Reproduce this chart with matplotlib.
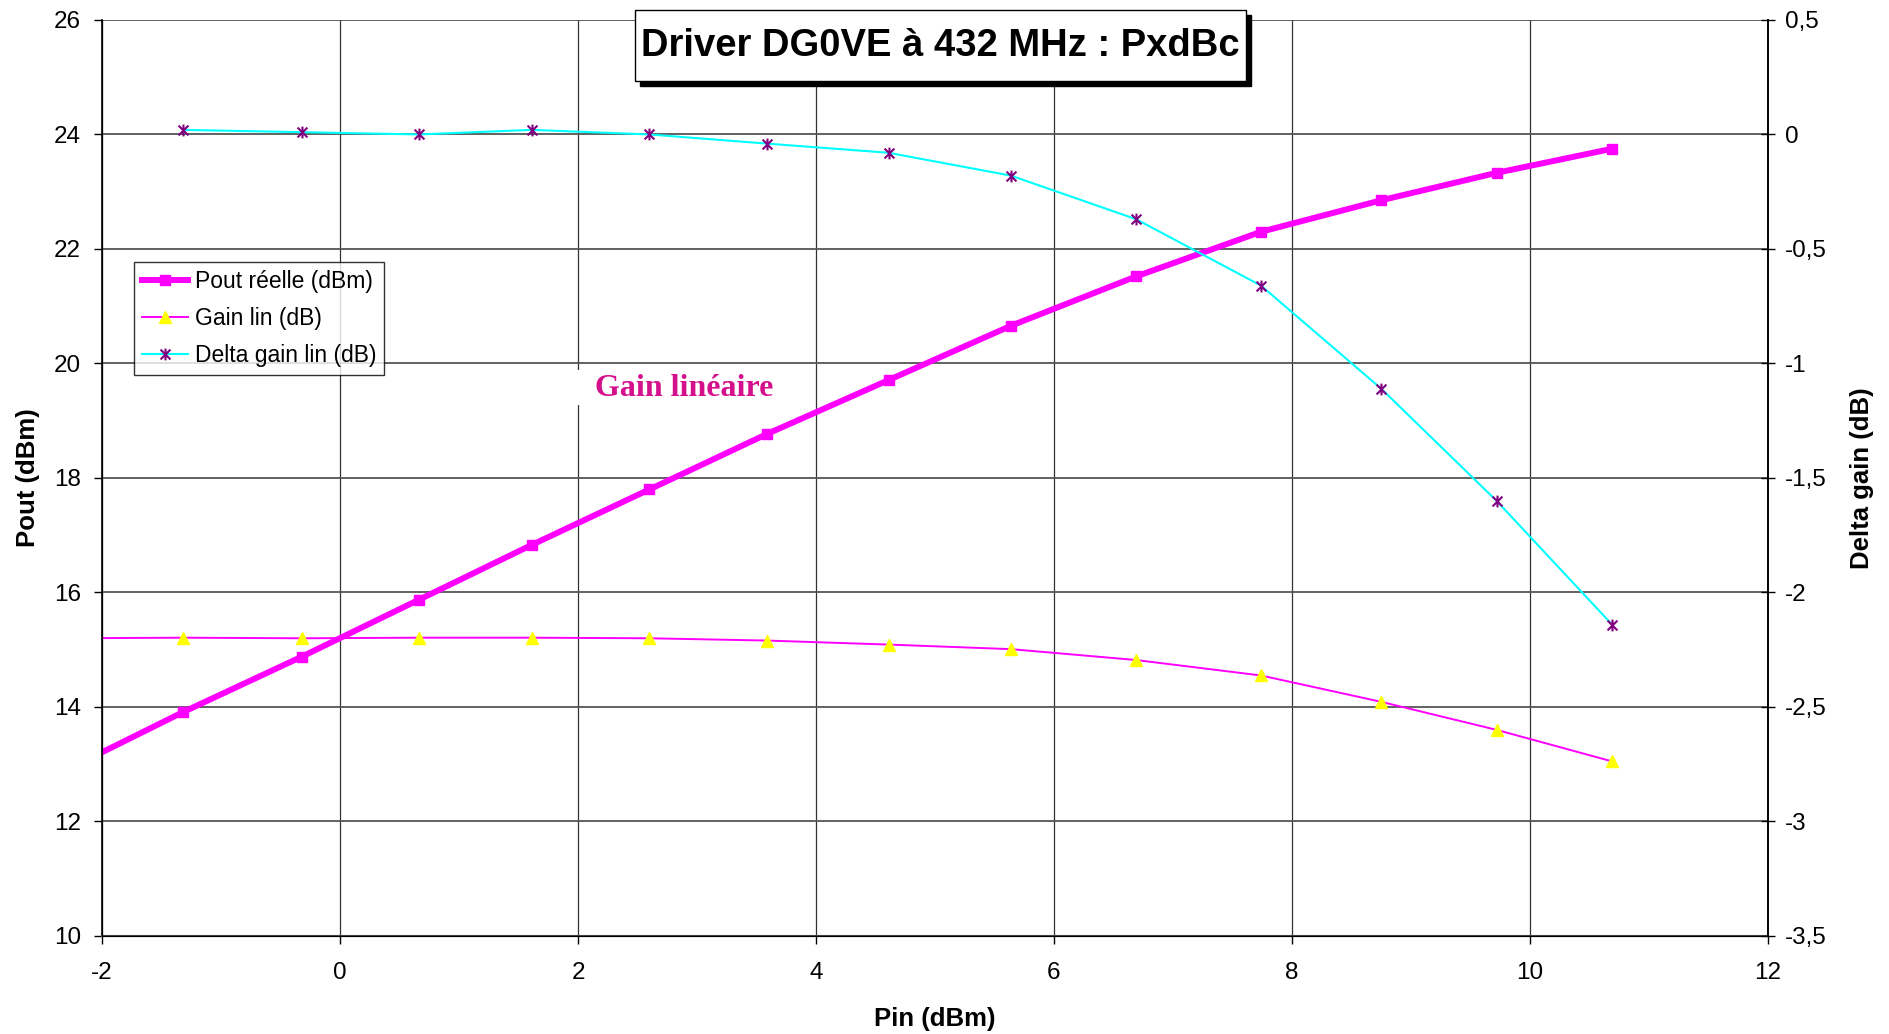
import numpy as np
import matplotlib
matplotlib.use("Agg")
import matplotlib.pyplot as plt
from matplotlib.path import Path
from matplotlib.patches import Rectangle
from matplotlib.ticker import FuncFormatter, MultipleLocator

# Measured driver data (Pin in dBm)
pin = [-2.3, -1.32, -0.32, 0.66, 1.61, 2.60, 3.59, 4.61, 5.64, 6.69, 7.74, 8.75, 9.72, 10.69]
pout = [12.9, 13.91, 14.88, 15.87, 16.83, 17.80, 18.77, 19.71, 20.66, 21.52, 22.30, 22.85, 23.33, 23.75]
gain_lin = [15.2, 15.21, 15.20, 15.21, 15.21, 15.20, 15.16, 15.09, 15.01, 14.82, 14.55, 14.09, 13.60, 13.05]
delta_gain = [np.nan, 0.02, 0.01, 0.0, 0.02, 0.0, -0.04, -0.08, -0.18, -0.37, -0.66, -1.11, -1.60, -2.14]

series_names = ["Pout réelle (dBm)", "Gain lin (dB)", "Delta gain lin (dB)"]
title_text = "Driver DG0VE à 432 MHz : PxdBc"
note_text = "Gain linéaire"

plt.rcParams["font.family"] = ["Liberation Sans", "DejaVu Sans"]
plt.rcParams["axes.unicode_minus"] = False

fig = plt.figure(figsize=(18.9, 10.34), dpi=100)
ax = fig.add_axes([0.054, 0.0948, 0.8814, 0.8859])
ax2 = ax.twinx()

# Excel-style star marker: an x with a vertical bar
star = Path([(-1, -1), (1, 1), (-1, 1), (1, -1), (0, -1.2), (0, 1.2)],
            [Path.MOVETO, Path.LINETO, Path.MOVETO, Path.LINETO, Path.MOVETO, Path.LINETO])

ax.set_xlim(-2, 12)
ax.set_ylim(10, 26)
ax2.set_ylim(-3.5, 0.5)

ax.xaxis.set_major_locator(MultipleLocator(2))
ax.yaxis.set_major_locator(MultipleLocator(2))
ax2.yaxis.set_major_locator(MultipleLocator(0.5))

comma = FuncFormatter(lambda v, p: ("%g" % v).replace(".", ","))
ax.xaxis.set_major_formatter(comma)
ax.yaxis.set_major_formatter(comma)
ax2.yaxis.set_major_formatter(comma)

# grid
ax.grid(axis="y", color="#555555", lw=1.3, zorder=0)
ax.grid(axis="x", color="#333333", lw=0.9, zorder=0)
ax.set_axisbelow(True)

l1, = ax.plot(pin, pout, color="#FF00FF", lw=4.3, marker="s", ms=6.5,
              mfc="#FF00FF", mec="#FF00FF", zorder=4, label=series_names[0])
l2, = ax.plot(pin, gain_lin, color="#FF00FF", lw=1.4, marker="^", ms=8,
              mfc="#FFFF00", mec="#FFFF00", zorder=3, label=series_names[1])
l3, = ax2.plot(pin, delta_gain, color="#00FFFF", lw=1.5, marker=star, ms=8.5,
               mfc="none", mec="#800080", mew=1.5, zorder=3, label=series_names[2])

# white background behind the annotation
ax.add_patch(Rectangle((1.97, 19.27), 1.95, 0.62, facecolor="white", edgecolor="none", zorder=2))
ax.text(2.89, 19.57, note_text, family=["Liberation Serif", "DejaVu Serif"],
        fontweight="bold", fontsize=23, color="#D4108C", ha="center", va="center", zorder=5)

for s in ["left", "right"]:
    ax.spines[s].set_color("black")
    ax.spines[s].set_linewidth(1.2)
ax.spines["bottom"].set_color("#444444")
ax.spines["bottom"].set_linewidth(1.5)
ax.spines["top"].set_visible(False)
ax2.spines["top"].set_visible(False)
ax2.spines["right"].set_linewidth(1.2)

ax.tick_params(axis="both", direction="out", length=6, width=1, labelsize=17.5, colors="black")
ax.tick_params(axis="y", pad=9)
ax.tick_params(axis="x", pad=13)
ax2.tick_params(axis="y", direction="inout", length=10, width=1, labelsize=17.5, pad=7)

ax.set_xlabel("Pin (dBm)", fontsize=18.5, fontweight="bold")
ax.set_ylabel("Pout (dBm)", fontsize=18.5, fontweight="bold")
ax2.set_ylabel("Delta gain (dB)", fontsize=18.5, fontweight="bold", rotation=90)
ax.xaxis.set_label_coords(0.5, -0.078)
ax.yaxis.set_label_coords(-0.037, 0.5)
ax2.yaxis.set_label_coords(1.049, 0.5)

leg = ax2.legend(handles=[l1, l2, l3], loc="upper left", bbox_to_anchor=(0.0192, 0.7358),
                 fontsize=16.5, frameon=True, fancybox=False, handlelength=2.0,
                 borderpad=0.35, labelspacing=0.62, handletextpad=0.3, borderaxespad=0)
leg.get_frame().set_edgecolor("black")
leg.get_frame().set_linewidth(1.0)
leg.set_zorder(20)

# title box with drop shadow
bx0, by0, bw, bh = 635 / 1890, 1 - 81 / 1034, 611 / 1890, 71 / 1034
fig.add_artist(Rectangle((bx0 + 5 / 1890, by0 - 5 / 1034), bw, bh, transform=fig.transFigure,
                         facecolor="black", edgecolor="black", zorder=30))
fig.add_artist(Rectangle((bx0, by0), bw, bh, transform=fig.transFigure,
                         facecolor="white", edgecolor="black", lw=1.0, zorder=31))
fig.text(bx0 + bw / 2, by0 + bh / 2, title_text, fontsize=27.5, fontweight="bold",
         ha="center", va="center", zorder=32)

fig.savefig("out.png", dpi=100)
